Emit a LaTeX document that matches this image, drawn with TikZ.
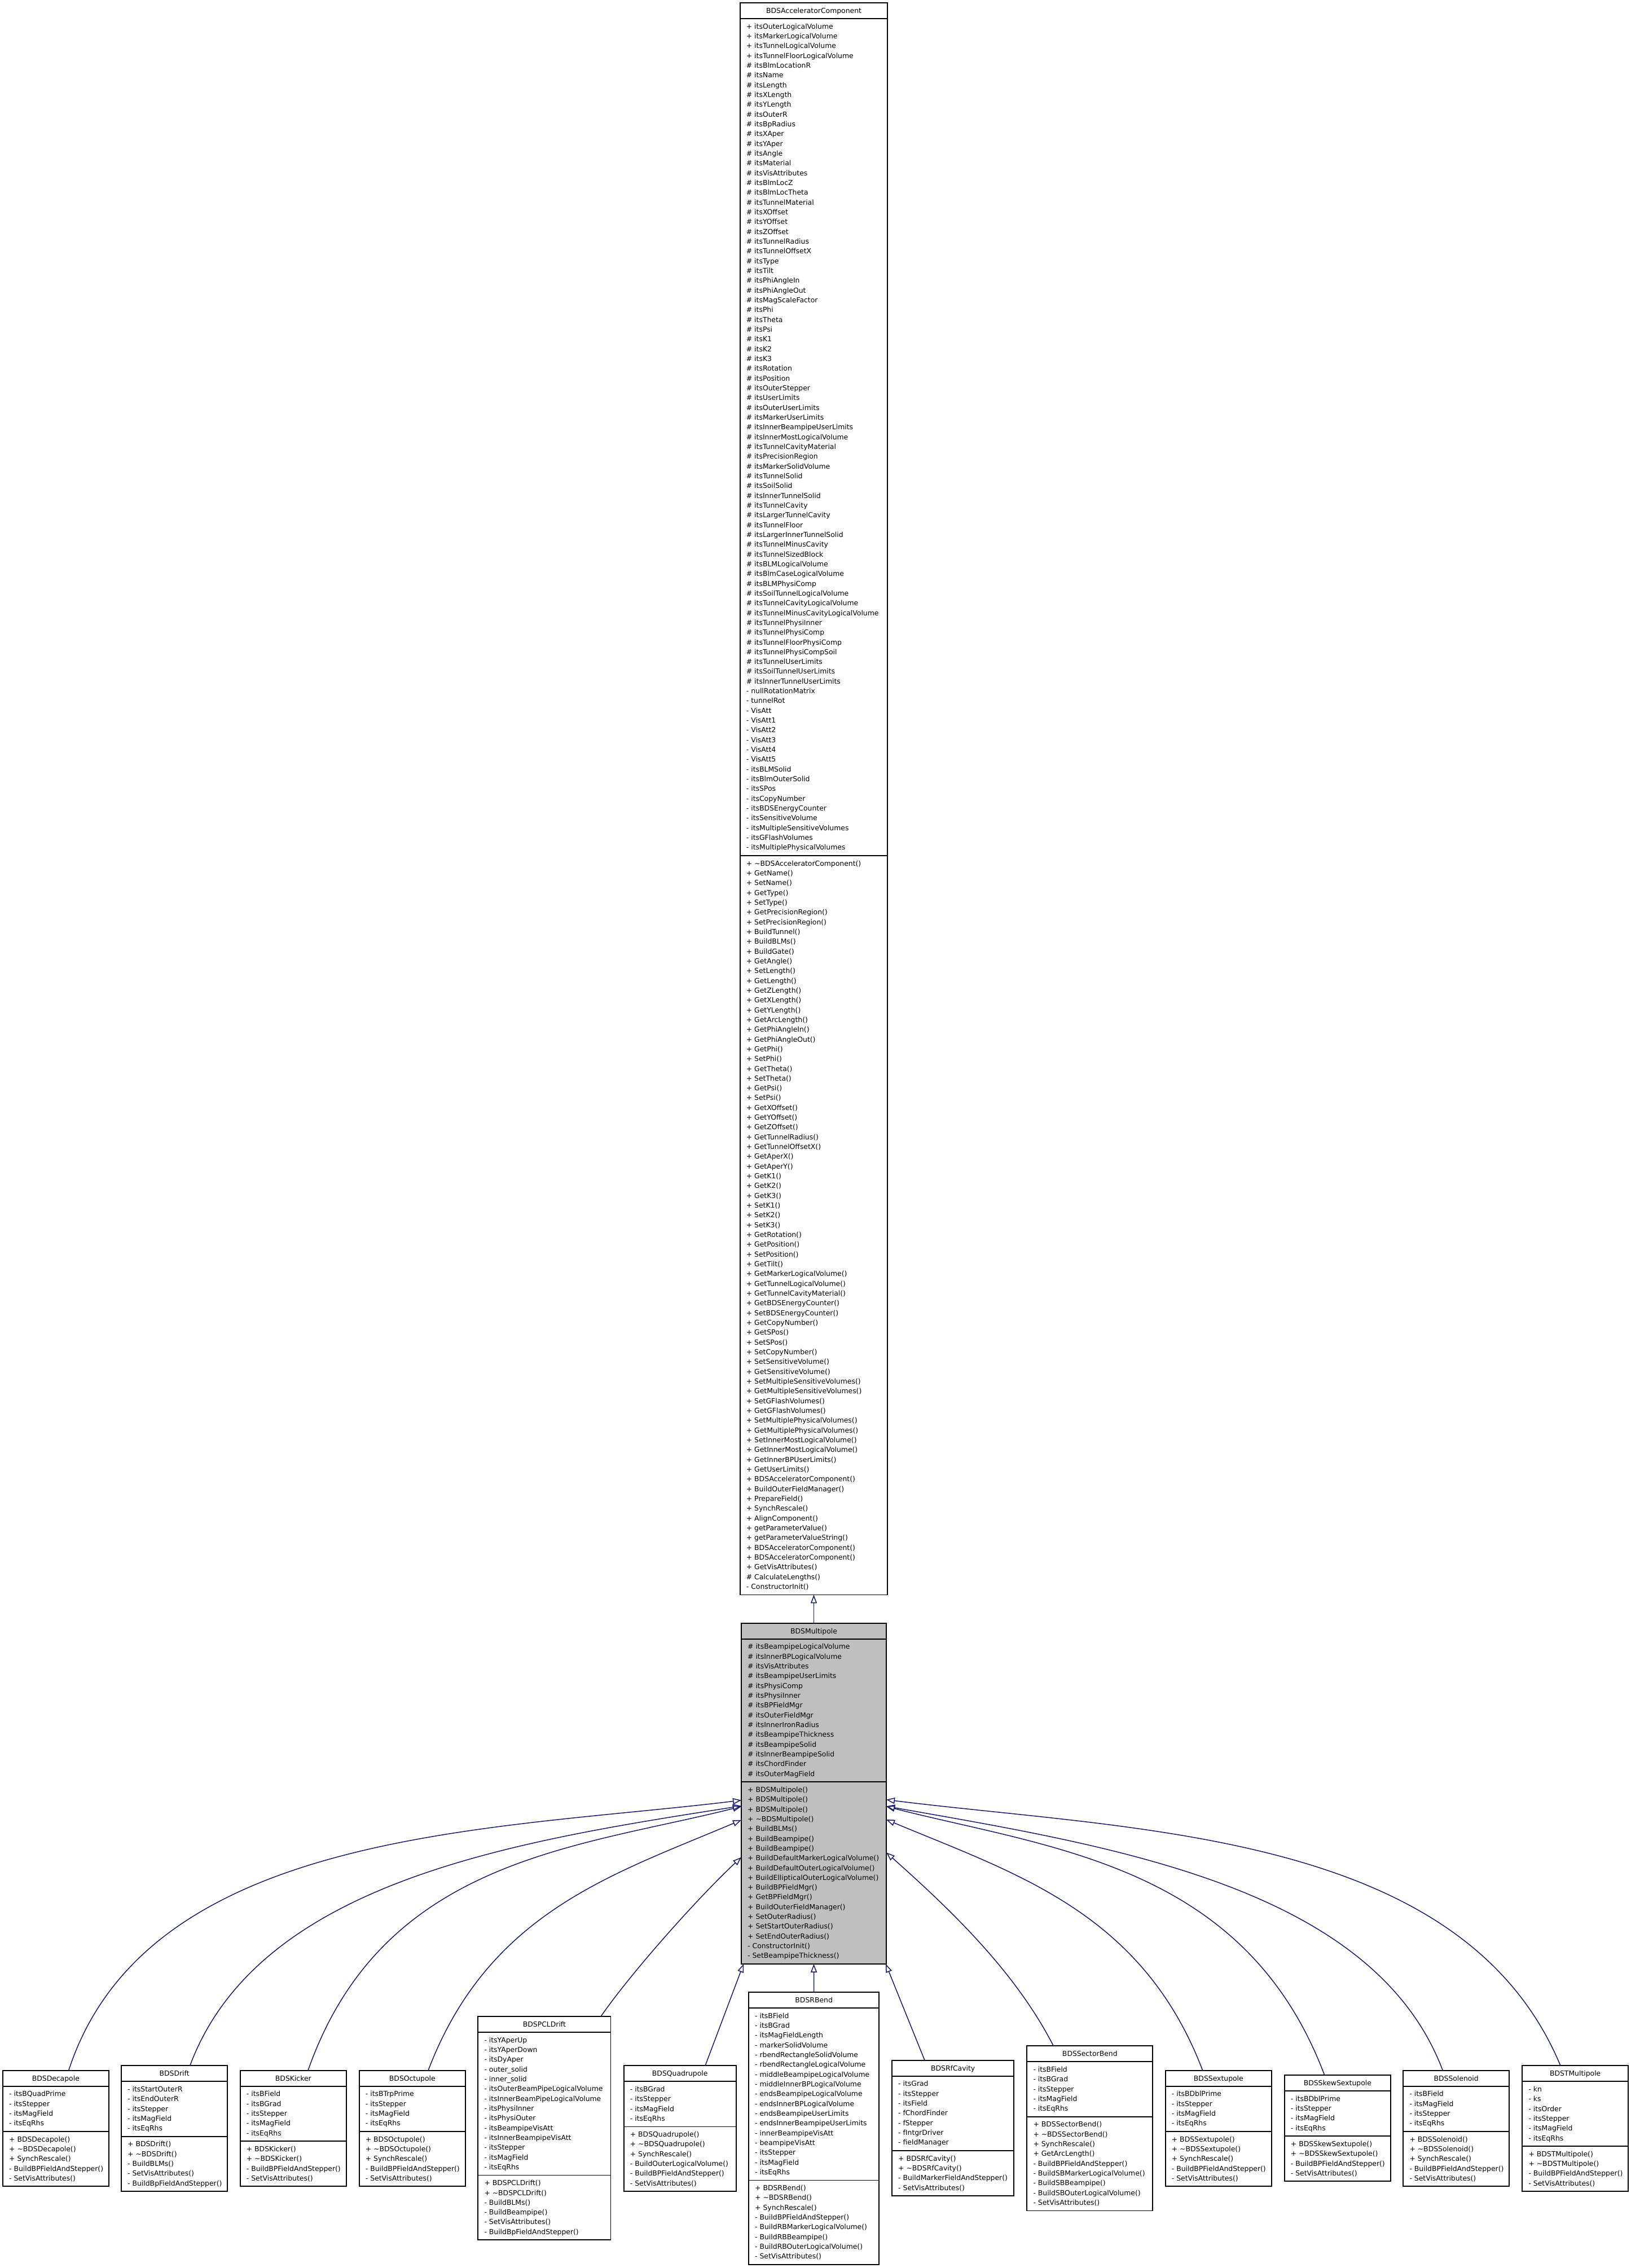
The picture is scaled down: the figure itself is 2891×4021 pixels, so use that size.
\documentclass[tikz,border=0pt]{standalone}
\usepackage{fontspec}
\setmainfont{DejaVu Sans}
\usetikzlibrary{arrows.meta,calc}
\definecolor{mblue}{HTML}{191970}
\definecolor{grey75}{HTML}{BFBFBF}
\newcommand\umlfont{\fontsize{12.4}{17.33}\selectfont}
\tikzset{
  classbox/.style={draw=black, line width=1.7pt, inner sep=0pt, outer sep=0pt},
  boxline/.style={draw=black, line width=1.7pt},
  titletext/.style={anchor=base, inner sep=0pt, font=\umlfont},
  membertext/.style={anchor=base west, inner sep=0pt, font=\umlfont},
  inherit/.style={draw=mblue, line width=1.5pt, -{Triangle[open, length=15pt, width=11pt]}}
}
% #1 name, #2 left x, #3 top y, #4 width, #5 fill, #6 title, #7 attributes, #8 methods
\newcommand\umlclass[8]{%
  \foreach \ulab [count=\uk] in {#7} {\xdef\uNa{\uk}}%
  \foreach \ulab [count=\uk] in {#8} {\xdef\uNm{\uk}}%
  \pgfmathsetmacro\uya{#3+28}%
  \pgfmathsetmacro\uym{\uya+\uNa*17.33+10.8}%
  \pgfmathsetmacro\uyb{\uym+\uNm*17.33+10.8}%
  \pgfmathsetmacro\uh{\uyb-#3}%
  \node[classbox, fill=#5, minimum width=#4pt, minimum height=\uh pt, anchor=north west] (#1) at (#2,#3) {};
  \node[titletext] (#1-t) at ({#2+#4/2},{#3+18.5}) {#6};
  \draw[boxline] (#2,\uya) -- ++(#4,0);
  \draw[boxline] (#2,\uym) -- ++(#4,0);
  \foreach \ulab [count=\uk] in {#7} {\node[membertext] (#1-a\uk) at ({#2+11},{\uya+18.2+(\uk-1)*17.33}) {\ulab};}%
  \foreach \ulab [count=\uk] in {#8} {\node[membertext] (#1-m\uk) at ({#2+11},{\uym+18.2+(\uk-1)*17.33}) {\ulab};}%
}
\begin{document}
\begin{tikzpicture}[x=1pt,y=-1pt]
\fill[white] (0,0) rectangle (2891,4021);
\useasboundingbox (0,0) rectangle (2891,4021);

\umlclass{acc}{1311.7}{5}{261.6}{white}{BDSAcceleratorComponent}{%
+ itsOuterLogicalVolume, + itsMarkerLogicalVolume, + itsTunnelLogicalVolume, + itsTunnelFloorLogicalVolume,
\# itsBlmLocationR, \# itsName, \# itsLength, \# itsXLength, \# itsYLength, \# itsOuterR, \# itsBpRadius,
\# itsXAper, \# itsYAper, \# itsAngle, \# itsMaterial, \# itsVisAttributes, \# itsBlmLocZ, \# itsBlmLocTheta,
\# itsTunnelMaterial, \# itsXOffset, \# itsYOffset, \# itsZOffset, \# itsTunnelRadius, \# itsTunnelOffsetX,
\# itsType, \# itsTilt, \# itsPhiAngleIn, \# itsPhiAngleOut, \# itsMagScaleFactor, \# itsPhi, \# itsTheta,
\# itsPsi, \# itsK1, \# itsK2, \# itsK3, \# itsRotation, \# itsPosition, \# itsOuterStepper, \# itsUserLimits,
\# itsOuterUserLimits, \# itsMarkerUserLimits, \# itsInnerBeampipeUserLimits, \# itsInnerMostLogicalVolume,
\# itsTunnelCavityMaterial, \# itsPrecisionRegion, \# itsMarkerSolidVolume, \# itsTunnelSolid, \# itsSoilSolid,
\# itsInnerTunnelSolid, \# itsTunnelCavity, \# itsLargerTunnelCavity, \# itsTunnelFloor,
\# itsLargerInnerTunnelSolid, \# itsTunnelMinusCavity, \# itsTunnelSizedBlock, \# itsBLMLogicalVolume,
\# itsBlmCaseLogicalVolume, \# itsBLMPhysiComp, \# itsSoilTunnelLogicalVolume, \# itsTunnelCavityLogicalVolume,
\# itsTunnelMinusCavityLogicalVolume, \# itsTunnelPhysiInner, \# itsTunnelPhysiComp, \# itsTunnelFloorPhysiComp,
\# itsTunnelPhysiCompSoil, \# itsTunnelUserLimits, \# itsSoilTunnelUserLimits, \# itsInnerTunnelUserLimits,
- nullRotationMatrix, - tunnelRot, - VisAtt, - VisAtt1, - VisAtt2, - VisAtt3, - VisAtt4, - VisAtt5,
- itsBLMSolid, - itsBlmOuterSolid, - itsSPos, - itsCopyNumber, - itsBDSEnergyCounter, - itsSensitiveVolume,
- itsMultipleSensitiveVolumes, - itsGFlashVolumes, - itsMultiplePhysicalVolumes}{%
+ \textasciitilde BDSAcceleratorComponent(), + GetName(), + SetName(), + GetType(), + SetType(),
+ GetPrecisionRegion(), + SetPrecisionRegion(), + BuildTunnel(), + BuildBLMs(), + BuildGate(), + GetAngle(),
+ SetLength(), + GetLength(), + GetZLength(), + GetXLength(), + GetYLength(), + GetArcLength(),
+ GetPhiAngleIn(), + GetPhiAngleOut(), + GetPhi(), + SetPhi(), + GetTheta(), + SetTheta(), + GetPsi(),
+ SetPsi(), + GetXOffset(), + GetYOffset(), + GetZOffset(), + GetTunnelRadius(), + GetTunnelOffsetX(),
+ GetAperX(), + GetAperY(), + GetK1(), + GetK2(), + GetK3(), + SetK1(), + SetK2(), + SetK3(),
+ GetRotation(), + GetPosition(), + SetPosition(), + GetTilt(), + GetMarkerLogicalVolume(),
+ GetTunnelLogicalVolume(), + GetTunnelCavityMaterial(), + GetBDSEnergyCounter(), + SetBDSEnergyCounter(),
+ GetCopyNumber(), + GetSPos(), + SetSPos(), + SetCopyNumber(), + SetSensitiveVolume(),
+ GetSensitiveVolume(), + SetMultipleSensitiveVolumes(), + GetMultipleSensitiveVolumes(),
+ SetGFlashVolumes(), + GetGFlashVolumes(), + SetMultiplePhysicalVolumes(), + GetMultiplePhysicalVolumes(),
+ SetInnerMostLogicalVolume(), + GetInnerMostLogicalVolume(), + GetInnerBPUserLimits(), + GetUserLimits(),
+ BDSAcceleratorComponent(), + BuildOuterFieldManager(), + PrepareField(), + SynchRescale(),
+ AlignComponent(), + getParameterValue(), + getParameterValueString(), + BDSAcceleratorComponent(),
+ BDSAcceleratorComponent(), + GetVisAttributes(), \# CalculateLengths(), - ConstructorInit()}

\umlclass{mp}{1314}{2877.7}{257}{grey75}{BDSMultipole}{%
\# itsBeampipeLogicalVolume, \# itsInnerBPLogicalVolume, \# itsVisAttributes, \# itsBeampipeUserLimits,
\# itsPhysiComp, \# itsPhysiInner, \# itsBPFieldMgr, \# itsOuterFieldMgr, \# itsInnerIronRadius,
\# itsBeampipeThickness, \# itsBeampipeSolid, \# itsInnerBeampipeSolid, \# itsChordFinder, \# itsOuterMagField}{%
+ BDSMultipole(), + BDSMultipole(), + BDSMultipole(), + \textasciitilde BDSMultipole(), + BuildBLMs(),
+ BuildBeampipe(), + BuildBeampipe(), + BuildDefaultMarkerLogicalVolume(), + BuildDefaultOuterLogicalVolume(),
+ BuildEllipticalOuterLogicalVolume(), + BuildBPFieldMgr(), + GetBPFieldMgr(), + BuildOuterFieldManager(),
+ SetOuterRadius(), + SetStartOuterRadius(), + SetEndOuterRadius(), - ConstructorInit(), - SetBeampipeThickness()}

\umlclass{dec}{5}{3670.7}{187.7}{white}{BDSDecapole}{%
- itsBQuadPrime, - itsStepper, - itsMagField, - itsEqRhs}{%
+ BDSDecapole(), + \textasciitilde BDSDecapole(), + SynchRescale(), - BuildBPFieldAndStepper(), - SetVisAttributes()}

\umlclass{dri}{215}{3662.3}{188.3}{white}{BDSDrift}{%
- itsStartOuterR, - itsEndOuterR, - itsStepper, - itsMagField, - itsEqRhs}{%
+ BDSDrift(), + \textasciitilde BDSDrift(), - BuildBLMs(), - SetVisAttributes(), - BuildBpFieldAndStepper()}

\umlclass{kic}{425.7}{3670.7}{188.3}{white}{BDSKicker}{%
- itsBField, - itsBGrad, - itsStepper, - itsMagField, - itsEqRhs}{%
+ BDSKicker(), + \textasciitilde BDSKicker(), - BuildBPFieldAndStepper(), - SetVisAttributes()}

\umlclass{oct}{636.7}{3670.7}{188.3}{white}{BDSOctupole}{%
- itsBTrpPrime, - itsStepper, - itsMagField, - itsEqRhs}{%
+ BDSOctupole(), + \textasciitilde BDSOctupole(), + SynchRescale(), - BuildBPFieldAndStepper(), - SetVisAttributes()}

\umlclass{pcl}{847.3}{3575}{235.3}{white}{BDSPCLDrift}{%
- itsYAperUp, - itsYAperDown, - itsDyAper, - outer\_solid, - inner\_solid, - itsOuterBeamPipeLogicalVolume,
- itsInnerBeamPipeLogicalVolume, - itsPhysiInner, - itsPhysiOuter, - itsBeampipeVisAtt,
- itsInnerBeampipeVisAtt, - itsStepper, - itsMagField, - itsEqRhs}{%
+ BDSPCLDrift(), + \textasciitilde BDSPCLDrift(), - BuildBLMs(), - BuildBeampipe(), - SetVisAttributes(),
- BuildBpFieldAndStepper()}

\umlclass{quad}{1105.7}{3662.3}{199}{white}{BDSQuadrupole}{%
- itsBGrad, - itsStepper, - itsMagField, - itsEqRhs}{%
+ BDSQuadrupole(), + \textasciitilde BDSQuadrupole(), + SynchRescale(), - BuildOuterLogicalVolume(),
- BuildBPFieldAndStepper(), - SetVisAttributes()}

\umlclass{rb}{1327}{3532}{231.3}{white}{BDSRBend}{%
- itsBField, - itsBGrad, - itsMagFieldLength, - markerSolidVolume, - rbendRectangleSolidVolume,
- rbendRectangleLogicalVolume, - middleBeampipeLogicalVolume, - middleInnerBPLogicalVolume,
- endsBeampipeLogicalVolume, - endsInnerBPLogicalVolume, - endsBeampipeUserLimits,
- endsInnerBeampipeUserLimits, - innerBeampipeVisAtt, - beampipeVisAtt, - itsStepper, - itsMagField, - itsEqRhs}{%
+ BDSRBend(), + \textasciitilde BDSRBend(), + SynchRescale(), - BuildBPFieldAndStepper(),
- BuildRBMarkerLogicalVolume(), - BuildRBBeampipe(), - BuildRBOuterLogicalVolume(), - SetVisAttributes()}

\umlclass{rf}{1581}{3652.7}{216.3}{white}{BDSRfCavity}{%
- itsGrad, - itsStepper, - itsField, - fChordFinder, - fStepper, - fIntgrDriver, - fieldManager}{%
+ BDSRfCavity(), + \textasciitilde BDSRfCavity(), - BuildMarkerFieldAndStepper(), - SetVisAttributes()}

\umlclass{sb}{1820.3}{3627.3}{223}{white}{BDSSectorBend}{%
- itsBField, - itsBGrad, - itsStepper, - itsMagField, - itsEqRhs}{%
+ BDSSectorBend(), + \textasciitilde BDSSectorBend(), + SynchRescale(), + GetArcLength(),
- BuildBPFieldAndStepper(), - BuildSBMarkerLogicalVolume(), - BuildSBBeampipe(),
- BuildSBOuterLogicalVolume(), - SetVisAttributes()}

\umlclass{sx}{2065.7}{3670.7}{188.3}{white}{BDSSextupole}{%
- itsBDblPrime, - itsStepper, - itsMagField, - itsEqRhs}{%
+ BDSSextupole(), + \textasciitilde BDSSextupole(), + SynchRescale(), - BuildBPFieldAndStepper(), - SetVisAttributes()}

\umlclass{ssx}{2276.7}{3679}{188.3}{white}{BDSSkewSextupole}{%
- itsBDblPrime, - itsStepper, - itsMagField, - itsEqRhs}{%
+ BDSSkewSextupole(), + \textasciitilde BDSSkewSextupole(), - BuildBPFieldAndStepper(), - SetVisAttributes()}

\umlclass{sol}{2487.3}{3670.7}{187.7}{white}{BDSSolenoid}{%
- itsBField, - itsMagField, - itsStepper, - itsEqRhs}{%
+ BDSSolenoid(), + \textasciitilde BDSSolenoid(), + SynchRescale(), - BuildBPFieldAndStepper(), - SetVisAttributes()}

\umlclass{tm}{2698.3}{3662.3}{187.7}{white}{BDSTMultipole}{%
- kn, - ks, - itsOrder, - itsStepper, - itsMagField, - itsEqRhs}{%
+ BDSTMultipole(), + \textasciitilde BDSTMultipole(), - BuildBPFieldAndStepper(), - SetVisAttributes()}

% arrow tip points on BDSMultipole
\coordinate (mpL1) at ($(mp.north west)+(0,314)$);
\coordinate (mpL2) at ($(mp.north west)+(0,324)$);
\coordinate (mpL3) at ($(mp.north west)+(0,325)$);
\coordinate (mpL4) at ($(mp.north west)+(0,349)$);
\coordinate (mpL5) at ($(mp.north west)+(0,415)$);
\coordinate (mpR1) at ($(mp.north east)+(0,313)$);
\coordinate (mpR2) at ($(mp.north east)+(0,324.6)$);
\coordinate (mpR3) at ($(mp.north east)+(0,325)$);
\coordinate (mpR4) at ($(mp.north east)+(0,348.3)$);
\coordinate (mpR5) at ($(mp.north east)+(0,406.6)$);
\coordinate (mpB1) at ($(mp.south west)+(4,0)$);
\coordinate (mpB3) at ($(mp.south east)+(-1,0)$);
% start points on the derived classes
\coordinate (decS) at ($(dec.north west)+(116.7,0)$);
\coordinate (driS) at ($(dri.north west)+(121.7,0)$);
\coordinate (kicS) at ($(kic.north west)+(120.3,0)$);
\coordinate (octS) at ($(oct.north west)+(122.3,0)$);
\coordinate (pclS) at ($(pcl.north west)+(217.7,0)$);
\coordinate (quadS) at ($(quad.north west)+(144.3,0)$);
\coordinate (rfS) at ($(rf.north west)+(58,0)$);
\coordinate (sbS) at ($(sb.north west)+(47,0)$);
\coordinate (sxS) at ($(sx.north west)+(66,0)$);
\coordinate (ssxS) at ($(ssx.north west)+(71,0)$);
\coordinate (solS) at ($(sol.north west)+(70,0)$);
\coordinate (tmS) at ($(tm.north west)+(67.7,0)$);

\draw[inherit] (mp.north) -- (acc.south);
\draw[inherit] (decS) .. controls +(139.5,-427.5) and +(-445.5,54) .. (mpL1);
\draw[inherit] (driS) .. controls +(122.5,-329) and +(-395,62) .. (mpL2);
\draw[inherit] (kicS) .. controls +(132,-376) and +(-291,73.5) .. (mpL3);
\draw[inherit] (octS) .. controls +(106.8,-280.2) and +(-230,97.5) .. (mpL4);
\draw[inherit] (pclS) .. controls +(57,-82) and +(-73,68) .. (mpL5);
\draw[inherit] (quadS) -- (mpB1);
\draw[inherit] (rb.north) -- (mp.south);
\draw[inherit] (rfS) -- (mpB3);
\draw[inherit] (sbS) .. controls +(-68.4,-133.5) and +(111.9,99.75) .. (mpR5);
\draw[inherit] (sxS) .. controls +(-106.8,-280.2) and +(230.5,96.5) .. (mpR4);
\draw[inherit] (ssxS) .. controls +(-141.2,-374.4) and +(290.4,74.7) .. (mpR3);
\draw[inherit] (solS) .. controls +(-123.9,-327.3) and +(394,70) .. (mpR2);
\draw[inherit] (tmS) .. controls +(-173.3,-415.4) and +(446.4,55.8) .. (mpR1);
\end{tikzpicture}
\end{document}
